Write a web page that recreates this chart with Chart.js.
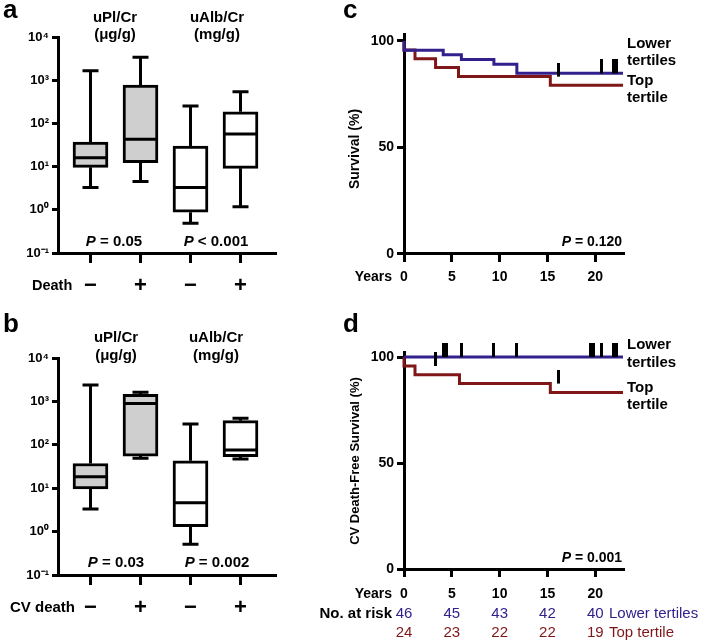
<!DOCTYPE html>
<html><head><meta charset="utf-8">
<script src="https://cdn.jsdelivr.net/npm/chart.js@4.4.1/dist/chart.umd.min.js"></script>
<style>
html,body{margin:0;padding:0;background:#fff;}
#wrap{position:relative;width:705px;height:644px;overflow:hidden;background:#fff;}
#wrap canvas{position:absolute;left:0;top:0;}
</style></head><body>
<div id="wrap">
<canvas id="ca" width="705" height="644"></canvas>
<canvas id="cb" width="705" height="644"></canvas>
<canvas id="cc" width="705" height="644"></canvas>
<canvas id="cd" width="705" height="644"></canvas>
</div>
<script>
// ---------------- data ----------------
const BOX_POS = [1, 2, 3, 4];
const BOX_SIGNS = ['\u2212', '+', '\u2212', '+'];
const LOG_TICKS = [0.1, 1, 10, 100, 1000, 10000];
const LOG_LABELS = ['10\u207B\u00B9', '10\u2070', '10\u00B9', '10\u00B2', '10\u00B3', '10\u2074'];

// panel a: uPl/Cr (death -, +), uAlb/Cr (death -, +)
const A_MIN = [3.3, 4.5, 0.49, 1.18];
const A_Q1  = [9.6, 12.3, 0.88, 9.1];
const A_MED = [16, 43, 3.3, 57];
const A_Q3  = [37, 775, 30, 186];
const A_MAX = [1650, 3400, 252, 540];

// panel b: uPl/Cr (CV death -, +), uAlb/Cr (CV death -, +)
const B_MIN = [3.3, 49, 0.51, 47];
const B_Q1  = [9.6, 55, 1.3, 53];
const B_MED = [18.4, 900, 4.6, 76];
const B_Q3  = [37, 1460, 43, 360];
const B_MAX = [2400, 1620, 302, 410];

const KM_TICKS_X = [0, 5, 10, 15, 20];
const KM_TICKS_Y = [0, 50, 100];

// panel c: all-cause survival
const C_LOW_T = [0, 4.1, 6.0, 9.4, 11.8, 19.6, 22.9];
const C_LOW_S = [100, 95.7, 93.5, 91.3, 89.1, 84.8, 84.8];
const C_TOP_T = [0, 1.15, 3.3, 5.7, 15.3, 16.4, 22.9];
const C_TOP_S = [100, 95.8, 91.7, 87.5, 83.3, 79.2, 79.2];
const C_LOW_CENS = [20.7, 21.9, 22.2];
const C_TOP_CENS = [16.2];

// panel d: CV death-free survival
const D_LOW_T = [0, 22.9];
const D_LOW_S = [100, 100];
const D_TOP_T = [0, 1.15, 5.8, 15.3, 16.4, 22.9];
const D_TOP_S = [100, 95.8, 91.7, 87.5, 83.3, 83.3];
const D_LOW_CENS = [4.1, 4.4, 6.0, 9.4, 11.8, 19.5, 19.8, 20.7, 21.9, 22.2];
const D_TOP_CENS = [3.3, 16.2];

const RISK_YEARS = [0, 5, 10, 15, 20];
const RISK_LOW = [46, 45, 43, 42, 40];
const RISK_TOP = [24, 23, 22, 22, 19];

// ---------------- styling ----------------
const FONT = "'Liberation Sans', Arial, Helvetica, sans-serif";
const W = 705, H = 644;
const BLUE = '#33208c';
const RED = '#7f1719';
const BOLD = s => `bold ${s}px ${FONT}`;
const BI = s => `italic bold ${s}px ${FONT}`;
const REG = s => `${s}px ${FONT}`;

function fixSize(size) {
  return s => {
    if (s.isHorizontal()) s.height = size; else s.width = size;
    s.paddingLeft = s.paddingRight = s.paddingTop = s.paddingBottom = 0;
  };
}

function drawRich(ctx, it) {
  const segs = it.segs || [{ t: it.t, f: it.f }];
  ctx.save();
  ctx.fillStyle = it.c || '#000';
  ctx.textBaseline = it.base || 'middle';
  let total = 0;
  segs.forEach(s => { ctx.font = s.f; s.w = ctx.measureText(s.t).width; total += s.w; });
  let x = it.x, y = it.y;
  if (it.rot) { ctx.translate(it.x, it.y); ctx.rotate(it.rot); x = 0; y = 0; }
  if (it.a === 'center') x -= total / 2; else if (it.a === 'right') x -= total;
  ctx.textAlign = 'left';
  segs.forEach(s => { ctx.font = s.f; ctx.fillText(s.t, x, y); x += s.w; });
  ctx.restore();
}

function textPlugin(items, extra) {
  return {
    id: 'texts',
    afterDraw(chart) {
      items.forEach(it => drawRich(chart.ctx, it));
      if (extra) extra(chart);
    }
  };
}

function whiskerPlugin(box) {
  return {
    id: 'whiskers',
    afterDatasetsDraw(chart) {
      const { ctx, scales: { x, y } } = chart;
      ctx.save();
      ctx.strokeStyle = '#000';
      ctx.lineWidth = 3;
      ctx.lineCap = 'butt';
      BOX_POS.forEach((p, i) => {
        const px = x.getPixelForValue(p);
        const yMin = y.getPixelForValue(box.min[i]);
        const yQ1 = y.getPixelForValue(box.q1[i]);
        const yMed = y.getPixelForValue(box.med[i]);
        const yQ3 = y.getPixelForValue(box.q3[i]);
        const yMax = y.getPixelForValue(box.max[i]);
        ctx.beginPath();
        ctx.moveTo(px, yQ3); ctx.lineTo(px, yMax);
        ctx.moveTo(px, yQ1); ctx.lineTo(px, yMin);
        ctx.moveTo(px - 8, yMax); ctx.lineTo(px + 8, yMax);
        ctx.moveTo(px - 8, yMin); ctx.lineTo(px + 8, yMin);
        ctx.moveTo(px - 16, yMed); ctx.lineTo(px + 16, yMed);
        ctx.stroke();
      });
      ctx.restore();
    }
  };
}

function boxChart(id, box, frame, texts) {
  const [L, T, R, B] = frame;
  const YW = 58, XH = 50;
  return new Chart(document.getElementById(id), {
    type: 'bar',
    data: {
      datasets: [{
        data: BOX_POS.map((x, i) => ({ x: x, y: [box.q1[i], box.q3[i]] })),
        backgroundColor: ['#cfcfcf', '#cfcfcf', '#ffffff', '#ffffff'],
        borderColor: '#000', borderWidth: 3, borderSkipped: false,
        barThickness: 35, grouped: false
      }]
    },
    options: {
      responsive: false, animation: false, events: [],
      layout: { padding: { left: L - YW, top: T, right: W - R, bottom: H - B - XH } },
      plugins: { legend: { display: false }, tooltip: { enabled: false } },
      scales: {
        x: {
          type: 'linear', min: 0.35, max: 4.69, offset: false,
          afterBuildTicks: s => { s.ticks = BOX_POS.map(v => ({ value: v })); },
          afterFit: fixSize(XH),
          ticks: { callback: (v, i) => BOX_SIGNS[i], font: { family: FONT, size: 22, weight: 'bold' }, color: '#000', padding: 10, maxRotation: 0, autoSkip: false },
          grid: { display: true, drawOnChartArea: false, drawTicks: true, tickLength: 10, lineWidth: 3, color: '#000', offset: false },
          border: { display: true, width: 3, color: '#000' }
        },
        y: {
          type: 'logarithmic', min: 0.1, max: 10000,
          afterBuildTicks: s => { s.ticks = LOG_TICKS.map(v => ({ value: v })); },
          afterFit: fixSize(YW),
          ticks: { callback: (v, i) => LOG_LABELS[i], font: { family: FONT, size: 13, weight: 'bold' }, color: '#000', padding: 3 },
          grid: { display: true, drawOnChartArea: false, drawTicks: true, tickLength: 6, lineWidth: 3, color: '#000' },
          border: { display: true, width: 3, color: '#000' }
        }
      }
    },
    plugins: [whiskerPlugin(box), textPlugin(texts)]
  });
}

// censor tick image: visible part sits above the point
const TICK_IMG = (() => {
  const c = document.createElement('canvas');
  c.width = 3; c.height = 28;
  const g = c.getContext('2d');
  g.fillStyle = '#000';
  g.fillRect(0, 0, 3, 14);
  return c;
})();

function survAt(ts, ss, t) {
  let s = ss[0];
  for (let i = 0; i < ts.length; i++) if (ts[i] <= t) s = ss[i];
  return s;
}

function kmChart(id, frame, yMax, km, texts, extra) {
  const [L, T, R, B] = frame;
  const YW = 50, XH = 40;
  const pts = (ts, ss) => ts.map((t, i) => ({ x: t, y: ss[i] }));
  const cens = (cs, ts, ss) => cs.map(t => ({ x: t, y: survAt(ts, ss, t) }));
  return new Chart(document.getElementById(id), {
    type: 'line',
    data: {
      datasets: [
        { data: cens(km.lowCens, km.lowT, km.lowS), showLine: false, pointStyle: TICK_IMG, pointRadius: 3, clip: false },
        { data: cens(km.topCens, km.topT, km.topS), showLine: false, pointStyle: TICK_IMG, pointRadius: 3, clip: false },
        { data: pts(km.lowT, km.lowS), borderColor: BLUE, borderWidth: 3, stepped: 'after', pointRadius: 0, fill: false, clip: false },
        { data: pts(km.topT, km.topS), borderColor: RED, borderWidth: 3, stepped: 'after', pointRadius: 0, fill: false, clip: false }
      ]
    },
    options: {
      responsive: false, animation: false, events: [],
      layout: { padding: { left: L - YW, top: T, right: W - R, bottom: H - B - XH } },
      plugins: { legend: { display: false }, tooltip: { enabled: false } },
      scales: {
        x: {
          type: 'linear', min: 0, max: 22.9,
          afterBuildTicks: s => { s.ticks = KM_TICKS_X.map(v => ({ value: v })); },
          afterFit: fixSize(XH),
          ticks: { callback: v => String(v), font: { family: FONT, size: 14, weight: 'bold' }, color: '#000', padding: km.xPad, maxRotation: 0, autoSkip: false },
          grid: { display: true, drawOnChartArea: false, drawTicks: true, tickLength: 8, lineWidth: 3, color: '#000' },
          border: { display: true, width: 3, color: '#000' }
        },
        y: {
          type: 'linear', min: 0, max: yMax,
          afterBuildTicks: s => { s.ticks = KM_TICKS_Y.map(v => ({ value: v })); },
          afterFit: fixSize(YW),
          ticks: { callback: v => String(v), font: { family: FONT, size: 14, weight: 'bold' }, color: '#000', padding: 3 },
          grid: { display: true, drawOnChartArea: false, drawTicks: true, tickLength: 7, lineWidth: 3, color: '#000' },
          border: { display: true, width: 3, color: '#000' }
        }
      }
    },
    plugins: [textPlugin(texts, extra)]
  });
}

// ---------------- panel a ----------------
boxChart('ca', { min: A_MIN, q1: A_Q1, med: A_MED, q3: A_Q3, max: A_MAX }, [58, 37, 275, 253], [
  { t: 'a', f: BOLD(26), x: 3, y: 18, a: 'left', base: 'alphabetic' },
  { t: 'uPl/Cr', f: BOLD(15), x: 115, y: 18, a: 'center' },
  { t: '(\u03BCg/g)', f: BOLD(15), x: 115, y: 35, a: 'center' },
  { t: 'uAlb/Cr', f: BOLD(15), x: 217, y: 18, a: 'center' },
  { t: '(mg/g)', f: BOLD(15), x: 217, y: 35, a: 'center' },
  { segs: [{ t: 'P', f: BI(15) }, { t: ' = 0.05', f: BOLD(15) }], x: 114, y: 242, a: 'center' },
  { segs: [{ t: 'P', f: BI(15) }, { t: ' < 0.001', f: BOLD(15) }], x: 216, y: 242, a: 'center' },
  { t: 'Death', f: BOLD(14.5), x: 32, y: 286, a: 'left' }
]);

// ---------------- panel b ----------------
boxChart('cb', { min: B_MIN, q1: B_Q1, med: B_MED, q3: B_Q3, max: B_MAX }, [58, 358, 275, 575], [
  { t: 'b', f: BOLD(26), x: 3, y: 332, a: 'left', base: 'alphabetic' },
  { t: 'uPl/Cr', f: BOLD(15), x: 116, y: 338, a: 'center' },
  { t: '(\u03BCg/g)', f: BOLD(15), x: 116, y: 356, a: 'center' },
  { t: 'uAlb/Cr', f: BOLD(15), x: 216, y: 338, a: 'center' },
  { t: '(mg/g)', f: BOLD(15), x: 216, y: 356, a: 'center' },
  { segs: [{ t: 'P', f: BI(15) }, { t: ' = 0.03', f: BOLD(15) }], x: 116, y: 563, a: 'center' },
  { segs: [{ t: 'P', f: BI(15) }, { t: ' = 0.002', f: BOLD(15) }], x: 217, y: 563, a: 'center' },
  { t: 'CV death', f: BOLD(15), x: 10, y: 608, a: 'left' }
]);

// ---------------- panel c ----------------
kmChart('cc', [404, 34.6, 623, 254], 103, {
  lowT: C_LOW_T, lowS: C_LOW_S, topT: C_TOP_T, topS: C_TOP_S,
  lowCens: C_LOW_CENS, topCens: C_TOP_CENS, xPad: 7
}, [
  { t: 'c', f: BOLD(26), x: 343, y: 18, a: 'left', base: 'alphabetic' },
  { t: 'Survival (%)', f: BOLD(14), x: 355, y: 149, a: 'center', rot: -Math.PI / 2 },
  { t: 'Lower', f: BOLD(15), x: 627, y: 44, a: 'left' },
  { t: 'tertiles', f: BOLD(15), x: 627, y: 61, a: 'left' },
  { t: 'Top', f: BOLD(15), x: 627, y: 81, a: 'left' },
  { t: 'tertile', f: BOLD(15), x: 627, y: 98, a: 'left' },
  { segs: [{ t: 'P', f: BI(14) }, { t: ' = 0.120', f: BOLD(14) }], x: 622, y: 242, a: 'right' },
  { t: 'Years', f: BOLD(14), x: 392, y: 277, a: 'right' }
]);

// ---------------- panel d ----------------
kmChart('cd', [404, 352.8, 623, 569], 102, {
  lowT: D_LOW_T, lowS: D_LOW_S, topT: D_TOP_T, topS: D_TOP_S,
  lowCens: D_LOW_CENS, topCens: D_TOP_CENS, xPad: 9
}, [
  { t: 'd', f: BOLD(26), x: 343, y: 332, a: 'left', base: 'alphabetic' },
  { t: 'CV Death-Free Survival (%)', f: BOLD(13), x: 355, y: 461, a: 'center', rot: -Math.PI / 2 },
  { t: 'Lower', f: BOLD(15), x: 627, y: 345, a: 'left' },
  { t: 'tertiles', f: BOLD(15), x: 627, y: 363, a: 'left' },
  { t: 'Top', f: BOLD(15), x: 627, y: 388, a: 'left' },
  { t: 'tertile', f: BOLD(15), x: 627, y: 405, a: 'left' },
  { segs: [{ t: 'P', f: BI(14) }, { t: ' = 0.001', f: BOLD(14) }], x: 622, y: 558, a: 'right' },
  { t: 'Years', f: BOLD(14), x: 392, y: 594, a: 'right' },
  { t: 'No. at risk', f: BOLD(15), x: 392, y: 614, a: 'right' },
  { t: 'Lower tertiles', f: REG(15), x: 609, y: 614, a: 'left', c: BLUE },
  { t: 'Top tertile', f: REG(15), x: 609, y: 633, a: 'left', c: RED }
], chart => {
  const x = chart.scales.x;
  RISK_YEARS.forEach((yr, i) => {
    const px = x.getPixelForValue(yr);
    drawRich(chart.ctx, { t: String(RISK_LOW[i]), f: REG(15), x: px, y: 614, a: 'center', c: BLUE });
    drawRich(chart.ctx, { t: String(RISK_TOP[i]), f: REG(15), x: px, y: 633, a: 'center', c: RED });
  });
});
</script>
</body></html>
